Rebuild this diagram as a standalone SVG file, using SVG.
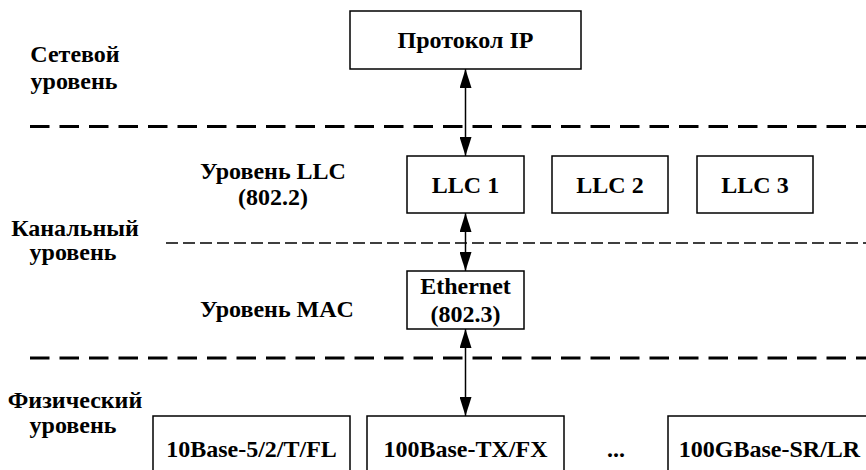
<svg xmlns="http://www.w3.org/2000/svg" width="866" height="470" viewBox="0 0 866 470">
<style>
text{font-family:"Liberation Serif","Times New Roman",serif;font-weight:bold;font-size:24px;fill:#000}
.c{text-anchor:middle}
.box{fill:#fff;stroke:#000;stroke-width:1.5}
.thick{stroke:#000;stroke-width:3;stroke-dasharray:19.5 10;fill:none}
.thin{stroke:#000;stroke-width:1.5;stroke-dasharray:12 5;fill:none}
.conn{stroke:#000;stroke-width:1.5;fill:none;marker-start:url(#ah);marker-end:url(#ah)}
</style>
<defs>
<marker id="ah" markerUnits="userSpaceOnUse" markerWidth="19" markerHeight="12" refX="19" refY="6" orient="auto-start-reverse">
<path d="M0,0 L19,6 L0,12 z" fill="#000"/>
</marker>
</defs>
<rect width="866" height="470" fill="#fff"/>
<g id="separators">
<line class="thick" x1="30" y1="126.5" x2="866" y2="126.5"/>
<line class="thin" x1="166" y1="243" x2="866" y2="243"/>
<line class="thick" x1="30" y1="358" x2="866" y2="358"/>
</g>
<g id="labels">
<text class="c" x="75" y="62">Сетевой</text>
<text class="c" x="74" y="89">уровень</text>
<text class="c" x="273" y="179">Уровень LLC</text>
<text class="c" x="273" y="205">(802.2)</text>
<text class="c" x="75" y="236">Канальный</text>
<text class="c" x="73" y="260">уровень</text>
<text class="c" x="277" y="317">Уровень MAC</text>
<text class="c" x="75" y="408">Физический</text>
<text class="c" x="73" y="433">уровень</text>
<text class="c" x="616" y="457">...</text>
</g>
<g id="connectors">
<line class="conn" x1="465.5" y1="69" x2="465.5" y2="156"/>
<line class="conn" x1="465.5" y1="213" x2="465.5" y2="271"/>
<line class="conn" x1="465.5" y1="329" x2="465.5" y2="416"/>
</g>
<g id="ip"><rect class="box" x="350" y="11" width="231" height="58"/><text class="c" x="465.5" y="48">Протокол IP</text></g>
<g id="llc1"><rect class="box" x="407" y="156" width="117" height="57"/><text class="c" x="465.5" y="193">LLC 1</text></g>
<g id="llc2"><rect class="box" x="552" y="156" width="116" height="57"/><text class="c" x="610" y="193">LLC 2</text></g>
<g id="llc3"><rect class="box" x="697" y="156" width="116" height="57"/><text class="c" x="755" y="193">LLC 3</text></g>
<g id="ethernet"><rect class="box" x="407" y="271" width="117" height="58"/><text class="c" x="465.5" y="294">Ethernet</text><text class="c" x="465.5" y="322">(802.3)</text></g>
<g id="phy1"><rect class="box" x="153" y="416" width="197" height="70"/><text class="c" x="251.5" y="457">10Base-5/2/T/FL</text></g>
<g id="phy2"><rect class="box" x="367" y="416" width="197" height="70"/><text class="c" x="465.5" y="457">100Base-TX/FX</text></g>
<g id="phy3"><rect class="box" x="668" y="416" width="220" height="70"/><text class="c" x="769.5" y="457">100GBase-SR/LR</text></g>
</svg>
